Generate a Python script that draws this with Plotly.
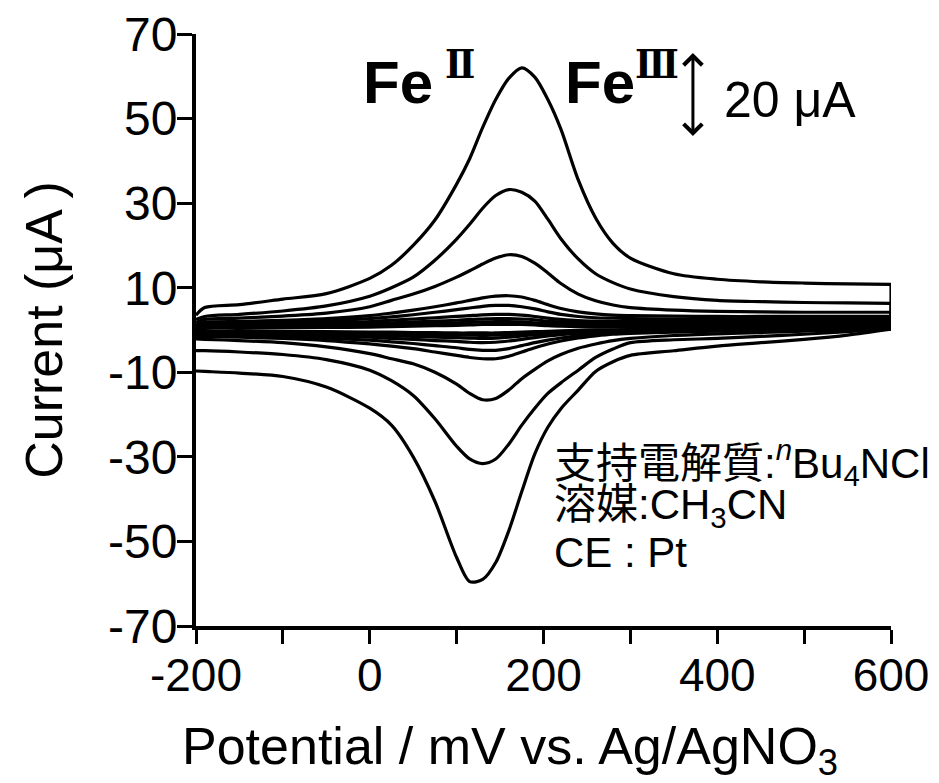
import plotly.graph_objects as go

# Potential grid (mV vs Ag/AgNO3)
potential = [-200, -190, -150, -100, -50, 0, 25, 50, 75, 100, 115, 130, 145, 160, 175,
             190, 205, 220, 240, 260, 280, 300, 350, 400, 450, 500, 550, 600]

# Anodic (forward) and cathodic (reverse) currents in uA for each scan, on the grid above
c1_anodic = [3.5, 5.3, 6.0, 7.3, 8.6, 12.2, 15.3, 20.0, 26.0, 34.5, 40.5, 47.9, 54.5, 59.5, 62.0,
             59.8, 54.5, 47.5, 35.5, 26.5, 20.5, 17.0, 13.3, 12.0, 11.4, 11.1, 10.9, 10.8]
c1_cathodic = [-9.7, -9.8, -10.2, -11.0, -13.5, -18.5, -22.5, -30.0, -40.5, -53.8, -59.5, -59.0, -55.0, -47.5, -38.2,
               -29.3, -23.0, -18.6, -14.2, -9.8, -7.5, -6.0, -4.9, -3.8, -3.0, -2.2, -1.2, 0.2]
c2_anodic = [2.5, 3.2, 3.7, 4.5, 5.7, 8.0, 10.0, 12.5, 16.5, 21.5, 25.0, 28.8, 31.8, 33.2, 32.6,
             30.5, 26.2, 21.6, 16.8, 13.3, 11.2, 9.7, 7.9, 7.0, 6.7, 6.5, 6.4, 6.3]
c2_cathodic = [-4.9, -4.9, -5.2, -5.8, -7.0, -9.5, -12.0, -15.5, -21.0, -27.5, -30.5, -31.6, -30.5, -27.0, -22.5,
               -18.5, -15.0, -12.5, -9.5, -6.5, -4.5, -3.0, -2.3, -2.0, -1.5, -1.0, -0.4, 0.3]
c3_anodic = [1.8, 2.5, 2.8, 3.3, 4.0, 5.5, 7.0, 8.5, 10.3, 12.5, 14.0, 15.6, 17.0, 17.8, 17.4,
             15.8, 13.5, 11.0, 8.5, 6.9, 5.9, 5.3, 4.7, 4.4, 4.3, 4.2, 4.2, 4.2]
c3_cathodic = [-2.1, -2.2, -2.5, -3.0, -4.0, -5.6, -6.8, -8.0, -10.0, -12.8, -15.0, -16.5, -16.2, -14.2, -11.5,
               -9.3, -7.3, -5.8, -4.3, -3.3, -2.5, -2.0, -1.3, -0.9, -0.6, -0.3, 0.0, 0.3]
c4_anodic = [1.2, 1.8, 2.0, 2.3, 2.7, 3.4, 4.0, 4.7, 5.5, 6.4, 7.0, 7.6, 8.0, 8.1, 7.8,
             7.0, 6.0, 5.1, 4.3, 3.8, 3.5, 3.4, 3.3, 3.2, 3.2, 3.2, 3.2, 3.2]
c4_cathodic = [-1.5, -1.5, -1.7, -2.0, -2.5, -3.3, -3.8, -4.4, -5.2, -6.0, -6.5, -6.8, -6.8, -6.2, -5.2,
               -4.2, -3.3, -2.6, -1.9, -1.4, -1.0, -0.8, -0.5, -0.3, -0.1, 0.0, 0.1, 0.3]
c5_anodic = [1.0, 1.5, 1.7, 1.9, 2.2, 2.7, 3.1, 3.6, 4.2, 4.8, 5.2, 5.6, 5.8, 5.8, 5.5,
             5.0, 4.3, 3.7, 3.2, 2.9, 2.8, 2.7, 2.6, 2.6, 2.6, 2.6, 2.6, 2.6]
c5_cathodic = [-1.2, -1.2, -1.3, -1.5, -1.9, -2.4, -2.8, -3.2, -3.7, -4.2, -4.6, -4.8, -4.8, -4.4, -3.7,
               -3.0, -2.4, -1.9, -1.4, -1.0, -0.7, -0.5, -0.3, -0.1, 0.0, 0.1, 0.2, 0.3]
c6_anodic = [0.8, 1.2, 1.3, 1.5, 1.7, 2.0, 2.3, 2.6, 2.9, 3.2, 3.4, 3.6, 3.7, 3.7, 3.5,
             3.2, 2.8, 2.5, 2.2, 2.1, 2.0, 2.0, 2.0, 2.0, 2.0, 2.0, 2.0, 2.0]
c6_cathodic = [-0.9, -0.9, -1.0, -1.2, -1.4, -1.7, -2.0, -2.2, -2.5, -2.7, -2.9, -3.0, -2.9, -2.6, -2.2,
               -1.8, -1.4, -1.1, -0.8, -0.6, -0.4, -0.3, -0.1, 0.0, 0.1, 0.2, 0.2, 0.3]
c7_anodic = [0.6, 0.9, 1.0, 1.1, 1.3, 1.5, 1.7, 1.9, 2.1, 2.3, 2.5, 2.6, 2.7, 2.7, 2.6,
             2.4, 2.1, 1.9, 1.7, 1.6, 1.6, 1.5, 1.5, 1.5, 1.5, 1.5, 1.5, 1.5]
c7_cathodic = [-0.7, -0.7, -0.8, -0.9, -1.0, -1.2, -1.4, -1.5, -1.7, -1.8, -1.9, -2.0, -1.9, -1.7, -1.4,
               -1.1, -0.9, -0.7, -0.5, -0.3, -0.2, -0.1, 0.0, 0.1, 0.2, 0.2, 0.3, 0.3]
c8_anodic = [0.4, 0.6, 0.7, 0.8, 0.9, 1.1, 1.2, 1.4, 1.5, 1.7, 1.8, 1.9, 2.0, 2.0, 1.9,
             1.7, 1.5, 1.4, 1.2, 1.1, 1.1, 1.0, 1.0, 1.0, 1.0, 1.0, 1.0, 1.0]
c8_cathodic = [-0.5, -0.5, -0.5, -0.6, -0.7, -0.8, -0.9, -1.0, -1.1, -1.2, -1.2, -1.3, -1.2, -1.1, -0.9,
               -0.7, -0.5, -0.4, -0.3, -0.2, -0.1, 0.0, 0.1, 0.1, 0.2, 0.2, 0.3, 0.3]
c9_anodic = [0.2, 0.4, 0.4, 0.5, 0.6, 0.7, 0.8, 0.9, 1.0, 1.1, 1.2, 1.3, 1.3, 1.3, 1.3,
             1.2, 1.0, 0.9, 0.8, 0.7, 0.7, 0.7, 0.6, 0.6, 0.6, 0.6, 0.6, 0.6]
c9_cathodic = [-0.3, -0.3, -0.3, -0.4, -0.4, -0.5, -0.5, -0.6, -0.6, -0.7, -0.7, -0.7, -0.7, -0.6, -0.5,
               -0.4, -0.3, -0.2, -0.1, 0.0, 0.0, 0.1, 0.1, 0.2, 0.2, 0.2, 0.3, 0.3]

scans = [
    (c1_anodic, c1_cathodic), (c2_anodic, c2_cathodic), (c3_anodic, c3_cathodic),
    (c4_anodic, c4_cathodic), (c5_anodic, c5_cathodic), (c6_anodic, c6_cathodic),
    (c7_anodic, c7_cathodic), (c8_anodic, c8_cathodic), (c9_anodic, c9_cathodic),
]

x_tickvals = [-200, -100, 0, 100, 200, 300, 400, 500, 600]
x_ticktext = ["-200", "", "0", "", "200", "", "400", "", "600"]
y_tickvals = [-70, -50, -30, -10, 10, 30, 50, 70]
y_ticktext = ["-70", "-50", "-30", "-10", "10", "30", "50", "70"]

scale_bar_uA = 20

FONT = "Liberation Sans, Arial, Noto Sans CJK JP, sans-serif"
SERIF = "'DejaVu Serif Condensed', 'DejaVu Serif'"
LW = 3.2

fig = go.Figure()
for an, ca in scans:
    fig.add_trace(go.Scatter(x=potential, y=an, mode="lines",
                             line=dict(color="black", width=LW, shape="spline", smoothing=0.8),
                             showlegend=False, hoverinfo="skip"))
    fig.add_trace(go.Scatter(x=potential[::-1], y=ca[::-1], mode="lines",
                             line=dict(color="black", width=LW, shape="spline", smoothing=0.8),
                             showlegend=False, hoverinfo="skip"))
    fig.add_trace(go.Scatter(x=[potential[-1], potential[-1]], y=[an[-1], ca[-1]], mode="lines",
                             line=dict(color="black", width=LW), showlegend=False, hoverinfo="skip"))

fig.update_layout(
    width=939, height=783,
    margin=dict(l=196, r=48, t=34, b=157),
    paper_bgcolor="white", plot_bgcolor="white",
    font=dict(family=FONT, color="black", size=46),
    xaxis=dict(range=[-200, 600], showgrid=False, zeroline=False, showline=True, linecolor="black", linewidth=4,
               ticks="outside", ticklen=14, tickwidth=3, tickcolor="black", ticklabelstandoff=-8,
               tickvals=x_tickvals, ticktext=x_ticktext, tickfont=dict(size=46), automargin=False),
    yaxis=dict(range=[-70, 70], showgrid=False, zeroline=False, showline=True, linecolor="black", linewidth=4,
               ticks="outside", ticklen=15, tickwidth=3, tickcolor="black", ticklabelstandoff=-10,
               tickvals=y_tickvals, ticktext=y_ticktext, tickfont=dict(size=48), automargin=False),
)

numeral_style = "font-family:" + SERIF + ";font-weight:bold;font-size:40px"
annotations = [
    dict(text="Potential / mV vs. Ag/AgNO<sub>3</sub>", xref="paper", yref="paper", x=0.452, y=-0.209,
         xanchor="center", yanchor="middle", showarrow=False, font=dict(size=52)),
    dict(text="Current (\u03bcA\u2009)", xref="paper", yref="paper", x=-0.219, y=0.5, textangle=-90,
         xanchor="center", yanchor="middle", showarrow=False, font=dict(size=52)),
    dict(text="<b>Fe\u2009</b><sup><span style=\"" + numeral_style + "\">\u2161</span></sup>",
         xref="x", yref="y", x=-10, y=59.5, xanchor="left", yanchor="middle",
         showarrow=False, font=dict(size=60)),
    dict(text="<b>Fe</b><sup><span style=\"" + numeral_style + "\">\u2162</span></sup>",
         xref="x", yref="y", x=223, y=59.5, xanchor="left", yanchor="middle",
         showarrow=False, font=dict(size=60)),
    dict(text="20 \u03bcA", xref="x", yref="y", x=405, y=54.5, xanchor="left", yanchor="middle",
         showarrow=False, font=dict(size=50)),
    dict(x=372, y=65.5, ax=372, ay=65.5 - scale_bar_uA, xref="x", yref="y", axref="x", ayref="y",
         text="", showarrow=True, arrowhead=4, startarrowhead=4, arrowside="end+start", arrowsize=1.2,
         arrowwidth=3, arrowcolor="black"),
    dict(text="支持電解質:<sup><i>n</i></sup>Bu<sub>4</sub>NCl", xref="x", yref="y", x=210, y=-31.4,
         xanchor="left", yanchor="middle", showarrow=False, font=dict(size=42)),
    dict(text="溶媒:CH<sub>3</sub>CN", xref="x", yref="y", x=210, y=-42.0,
         xanchor="left", yanchor="middle", showarrow=False, font=dict(size=42)),
    dict(text="CE : Pt", xref="x", yref="y", x=210, y=-52.7,
         xanchor="left", yanchor="middle", showarrow=False, font=dict(size=42)),
]
fig.update_layout(annotations=annotations)

fig.write_html("out.html", config={"displayModeBar": False},
               post_script="document.body.style.margin='0';document.body.style.overflow='hidden';")
